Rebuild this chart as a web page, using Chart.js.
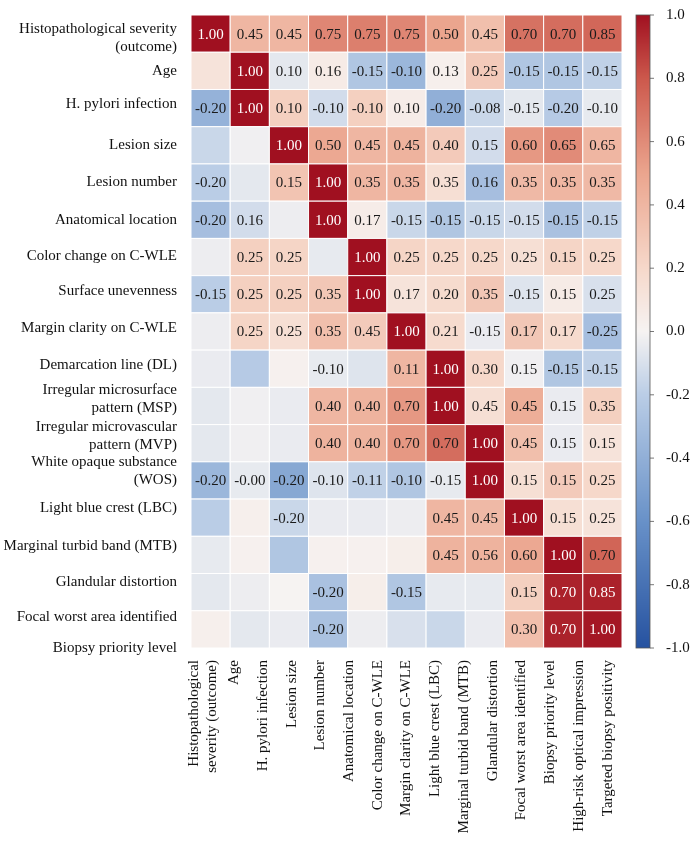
<!DOCTYPE html>
<html>
<head>
<meta charset="utf-8">
<script src="https://cdn.jsdelivr.net/npm/chart.js@4.4.1/dist/chart.umd.min.js"></script>
<style>
  html, body { margin: 0; padding: 0; background: #fff; }
  #wrap { width: 700px; height: 841px; }
</style>
</head>
<body>
<div id="wrap"><canvas id="heat" width="700" height="841"></canvas></div>
<script>
// row labels (left) and column labels (bottom) as printed
const rowLabels = [
  ['Histopathological severity', '(outcome)'], 'Age', 'H. pylori infection', 'Lesion size',
  'Lesion number', 'Anatomical location', 'Color change on C-WLE', 'Surface unevenness',
  'Margin clarity on C-WLE', 'Demarcation line (DL)', ['Irregular microsurface', 'pattern (MSP)'],
  ['Irregular microvascular', 'pattern (MVP)'], ['White opaque substance', '(WOS)'],
  'Light blue crest (LBC)', 'Marginal turbid band (MTB)', 'Glandular distortion',
  'Focal worst area identified', 'Biopsy priority level'
];
const rowTickPos = [0.62, 1.5, 2.38, 3.5, 4.5, 5.5, 6.48, 7.42, 8.4, 9.4, 10.32, 11.32, 12.25, 13.25, 14.25, 15.22, 16.18, 17.0];

const colLabels = [
  ['Histopathological', 'severity (outcome)'], 'Age', 'H. pylori infection', 'Lesion size',
  'Lesion number', 'Anatomical location', 'Color change on C-WLE', 'Margin clarity on C-WLE',
  'Light blue crest (LBC)', 'Marginal turbid band (MTB)', 'Glandular distortion',
  'Focal worst area identified', 'Biopsy priority level', 'High-risk optical impression',
  'Targeted biopsy positivity'
];
const colTickPos = [0.12, 1.5, 2.5, 3.5, 4.5, 5.5, 6.5, 7.5, 8.5, 9.5, 10.5, 11.5, 12.5, 13.5, 14.5];

// printed numbers ('' = no number shown)
const cellText = [
  ['1.00','0.45','0.45','0.75','0.75','0.75','0.50','0.45','0.70','0.70','0.85'],
  ['','1.00','0.10','0.16','-0.15','-0.10','0.13','0.25','-0.15','-0.15','-0.15'],
  ['-0.20','1.00','0.10','-0.10','-0.10','0.10','-0.20','-0.08','-0.15','-0.20','-0.10'],
  ['','','1.00','0.50','0.45','0.45','0.40','0.15','0.60','0.65','0.65'],
  ['-0.20','','0.15','1.00','0.35','0.35','0.35','0.16','0.35','0.35','0.35'],
  ['-0.20','0.16','','1.00','0.17','-0.15','-0.15','-0.15','-0.15','-0.15','-0.15'],
  ['','0.25','0.25','','1.00','0.25','0.25','0.25','0.25','0.15','0.25'],
  ['-0.15','0.25','0.25','0.35','1.00','0.17','0.20','0.35','-0.15','0.15','0.25'],
  ['','0.25','0.25','0.35','0.45','1.00','0.21','-0.15','0.17','0.17','-0.25'],
  ['','','','-0.10','','0.11','1.00','0.30','0.15','-0.15','-0.15'],
  ['','','','0.40','0.40','0.70','1.00','0.45','0.45','0.15','0.35'],
  ['','','','0.40','0.40','0.70','0.70','1.00','0.45','0.15','0.15'],
  ['-0.20','-0.00','-0.20','-0.10','-0.11','-0.10','-0.15','1.00','0.15','0.15','0.25'],
  ['','','-0.20','','','','0.45','0.45','1.00','0.15','0.25'],
  ['','','','','','','0.45','0.56','0.60','1.00','0.70'],
  ['','','','-0.20','','-0.15','','','0.15','0.70','0.85'],
  ['','','','-0.20','','','','','0.30','0.70','1.00']
];

// shade of each cell
const cellShade = [
  [1.00, 0.40, 0.40, 0.62, 0.65, 0.62, 0.50, 0.35, 0.70, 0.72, 0.74],
  [0.12, 1.00,-0.06, 0.06,-0.25,-0.35, 0.03, 0.28,-0.25,-0.25,-0.18],
  [-0.38, 1.00, 0.25,-0.12, 0.25, 0.05,-0.40,-0.15,-0.06,-0.22,-0.05],
  [-0.15,-0.02, 1.00, 0.48, 0.40, 0.42, 0.28,-0.12, 0.55, 0.60, 0.40],
  [-0.20,-0.06, 0.32, 1.00, 0.40, 0.40, 0.15,-0.30, 0.38, 0.40, 0.38],
  [-0.30,-0.12,-0.03, 1.00, 0.05,-0.15,-0.25,-0.15,-0.12,-0.28,-0.18],
  [-0.03, 0.25, 0.22,-0.05, 1.00, 0.22, 0.20, 0.20, 0.15, 0.22, 0.20],
  [-0.20, 0.25, 0.25, 0.30, 1.00, 0.12, 0.18, 0.30,-0.08, 0.06,-0.10],
  [-0.03, 0.22, 0.15, 0.35, 0.28, 1.00, 0.18,-0.04, 0.30, 0.18,-0.30],
  [-0.04,-0.22, 0.02,-0.05,-0.08, 0.40, 1.00, 0.20,-0.02,-0.25,-0.18],
  [-0.06,-0.02,-0.04, 0.40, 0.42, 0.55, 1.00, 0.15, 0.45,-0.04, 0.25],
  [-0.06,-0.02,-0.04, 0.42, 0.42, 0.55, 0.72, 1.00, 0.35,-0.04, 0.12],
  [-0.35,-0.05,-0.45,-0.08,-0.18,-0.25,-0.05, 1.00, 0.15, 0.28, 0.20],
  [-0.20, 0.03,-0.15,-0.04,-0.04,-0.03, 0.40, 0.38, 1.00, 0.15, 0.12],
  [-0.05, 0.02,-0.25, 0.02, 0.02, 0.04, 0.42, 0.42, 0.48, 1.00, 0.75],
  [-0.06,-0.03, 0.00,-0.28, 0.04,-0.25,-0.05,-0.05, 0.25, 0.95, 0.95],
  [ 0.03,-0.06,-0.04,-0.28,-0.03,-0.10,-0.15,-0.04, 0.35, 0.95, 0.98]
];

const cbTicks = [1.0, 0.8, 0.6, 0.4, 0.2, 0.0, -0.2, -0.4, -0.6, -0.8, -1.0];

const nRows = cellText.length;
const nCols = cellText[0].length;
const serif = '"Liberation Serif", "DejaVu Serif", serif';

// RdBu_r-ish colour map
const stops = [
  [-1.0, [38, 82, 160]], [-0.6, [104, 145, 200]], [-0.2, [186, 205, 230]],
  [0.0, [246, 243, 242]], [0.2, [246, 216, 202]], [0.5, [235, 165, 142]],
  [0.8, [204, 88, 76]], [1.0, [160, 16, 32]]
];
function shadeColor(v) {
  v = Math.max(-1, Math.min(1, v));
  for (let i = 0; i < stops.length - 1; i++) {
    const [a, ca] = stops[i], [b, cb] = stops[i + 1];
    if (v <= b) {
      const t = (v - a) / (b - a);
      const c = ca.map((x, k) => Math.round(x + (cb[k] - x) * t));
      return `rgb(${c[0]},${c[1]},${c[2]})`;
    }
  }
  return 'rgb(160,16,32)';
}

const points = [];
cellShade.forEach((row, r) => row.forEach((v, c) => points.push({ x: c + 0.5, y: r + 0.5, r: r, c: c })));

const heatPlugin = {
  id: 'heat',
  beforeDatasetsDraw(chart) {
    const { ctx, scales } = chart;
    const xs = scales.x, ys = scales.y;
    ctx.save();
    points.forEach(p => {
      const x0 = xs.getPixelForValue(p.c), x1 = xs.getPixelForValue(p.c + 1);
      const y0 = ys.getPixelForValue(p.r), y1 = ys.getPixelForValue(p.r + 1);
      const shade = cellShade[p.r][p.c];
      ctx.fillStyle = shadeColor(shade);
      ctx.fillRect(x0, y0, x1 - x0, y1 - y0);
      ctx.strokeStyle = '#ffffff';
      ctx.lineWidth = 1;
      ctx.strokeRect(x0, y0, x1 - x0, y1 - y0);
      const txt = cellText[p.r][p.c];
      if (txt) {
        ctx.fillStyle = shade >= 0.78 ? '#ffffff' : '#1a1a1a';
        ctx.font = '15px ' + serif;
        ctx.textAlign = 'center';
        ctx.textBaseline = 'middle';
        ctx.fillText(txt, (x0 + x1) / 2, (y0 + y1) / 2 + 1);
      }
    });
    // colour bar
    const cb = scales.cb;
    const top = cb.getPixelForValue(1), bot = cb.getPixelForValue(-1);
    const bx = cb.left + 14, bw = 14;
    for (let py = Math.floor(top); py < bot; py++) {
      ctx.fillStyle = shadeColor(cb.getValueForPixel(py + 0.5));
      ctx.fillRect(bx, py, bw, 1);
    }
    ctx.strokeStyle = '#555';
    ctx.lineWidth = 0.8;
    ctx.strokeRect(bx, top, bw, bot - top);
    cbTicks.forEach(t => {
      const py = cb.getPixelForValue(t);
      ctx.beginPath();
      ctx.moveTo(bx + bw, py);
      ctx.lineTo(bx + bw + 4, py);
      ctx.stroke();
    });
    ctx.restore();
  }
};

function noOverflow(s) {
  s.paddingTop = 0; s.paddingBottom = 0; s.paddingLeft = 0; s.paddingRight = 0;
}

new Chart(document.getElementById('heat'), {
  type: 'scatter',
  data: { datasets: [{ data: points, pointRadius: 0, pointHoverRadius: 0 }] },
  options: {
    responsive: false,
    animation: false,
    layout: { padding: { top: 15, right: 0, left: 0, bottom: 0 } },
    plugins: { legend: { display: false }, tooltip: { enabled: false } },
    scales: {
      x: { type: 'linear', min: 0, max: nCols, display: false },
      y: { type: 'linear', min: 0, max: nRows, reverse: true, display: false },
      xl: {
        type: 'linear', position: 'bottom', min: 0, max: colLabels.length,
        afterBuildTicks: s => { s.ticks = colTickPos.map(v => ({ value: v })); },
        afterFit: s => { s.height = 193; noOverflow(s); },
        grid: { display: false }, border: { display: false },
        ticks: {
          autoSkip: false, maxRotation: 90, minRotation: 90, padding: 4,
          color: '#111', font: { family: serif, size: 15 },
          callback: (v, i) => colLabels[i]
        }
      },
      yl: {
        type: 'linear', position: 'left', min: 0, max: nRows, reverse: true,
        afterBuildTicks: s => { s.ticks = rowTickPos.map(v => ({ value: v })); },
        afterFit: s => { s.width = 191; noOverflow(s); },
        grid: { display: false }, border: { display: false },
        ticks: {
          autoSkip: false, padding: 6, color: '#111',
          font: { family: serif, size: 15 }, lineHeight: 1.0,
          callback: (v, i) => rowLabels[i]
        }
      },
      cb: {
        type: 'linear', position: 'right', min: -1, max: 1,
        afterBuildTicks: s => { s.ticks = cbTicks.map(v => ({ value: v })); },
        afterFit: s => { s.width = 78; noOverflow(s); },
        grid: { display: false }, border: { display: false },
        ticks: {
          padding: 36, color: '#111', font: { family: serif, size: 15 },
          callback: v => v.toFixed(1)
        }
      }
    }
  },
  plugins: [heatPlugin]
});
</script>
</body>
</html>
